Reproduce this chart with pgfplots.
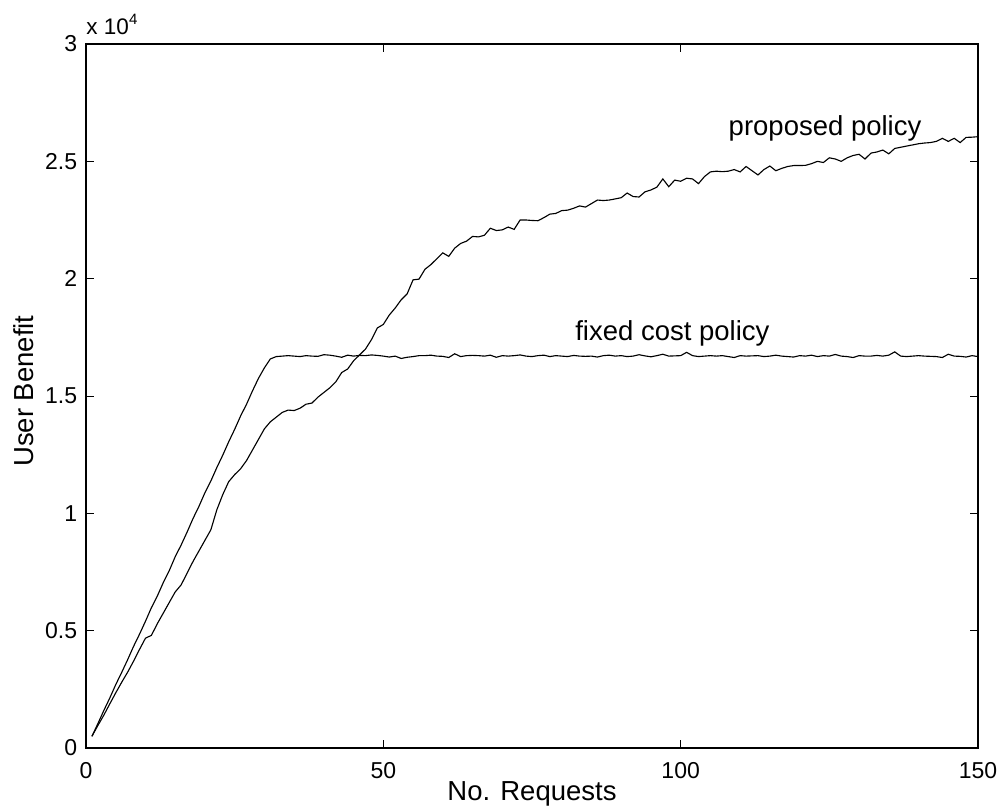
\documentclass[border=0pt]{standalone}
\usepackage{pgfplots}
\pgfplotsset{compat=1.18}
\usepackage{pgfplotstable}
\usepackage{fontspec}
\setmainfont{Liberation Sans}

\pgfplotstableread{
x prop fixed
1 500 500
2 960 1040
3 1400 1600
4 1880 2130
5 2350 2700
6 2800 3220
7 3230 3760
8 3700 4330
9 4200 4850
10 4680 5400
11 4800 5980
12 5300 6480
13 5750 7050
14 6200 7560
15 6650 8150
16 6950 8650
17 7450 9200
18 7950 9780
19 8400 10300
20 8850 10880
21 9300 11380
22 10150 11950
23 10800 12480
24 11350 13050
25 11650 13580
26 11900 14150
27 12250 14650
28 12700 15220
29 13150 15750
30 13600 16200
31 13900 16580
32 14100 16680
33 14300 16700
34 14400 16720
35 14380 16700
36 14480 16680
37 14650 16720
38 14700 16700
39 14950 16690
40 15150 16760
41 15350 16740
42 15600 16700
43 16000 16650
44 16150 16740
45 16500 16700
46 16750 16730
47 17000 16720
48 17400 16750
49 17900 16730
50 18050 16700
51 18450 16660
52 18750 16700
53 19100 16600
54 19350 16650
55 19950 16680
56 19980 16720
57 20400 16720
58 20600 16740
59 20850 16700
60 21100 16690
61 20950 16640
62 21300 16800
63 21500 16680
64 21600 16720
65 21800 16730
66 21780 16720
67 21850 16700
68 22150 16740
69 22050 16650
70 22080 16720
71 22200 16700
72 22100 16720
73 22500 16750
74 22500 16700
75 22480 16680
76 22470 16720
77 22600 16740
78 22750 16680
79 22780 16720
80 22900 16700
81 22920 16680
82 23000 16730
83 23100 16700
84 23050 16690
85 23200 16700
86 23350 16660
87 23330 16720
88 23350 16740
89 23400 16700
90 23450 16720
91 23650 16680
92 23500 16700
93 23480 16760
94 23700 16710
95 23780 16670
96 23900 16720
97 24250 16780
98 23920 16700
99 24200 16710
100 24150 16720
101 24280 16860
102 24250 16720
103 24050 16680
104 24350 16700
105 24550 16720
106 24580 16700
107 24560 16720
108 24580 16680
109 24650 16640
110 24550 16720
111 24780 16700
112 24600 16710
113 24420 16720
114 24650 16680
115 24800 16700
116 24600 16740
117 24700 16700
118 24780 16680
119 24820 16660
120 24820 16720
121 24830 16700
122 24900 16740
123 25000 16680
124 24950 16720
125 25150 16700
126 25100 16770
127 25000 16700
128 25150 16680
129 25250 16640
130 25300 16720
131 25100 16700
132 25350 16700
133 25400 16730
134 25480 16700
135 25320 16740
136 25550 16880
137 25600 16700
138 25650 16680
139 25700 16700
140 25750 16720
141 25780 16700
142 25800 16690
143 25850 16680
144 25980 16640
145 25850 16780
146 25980 16700
147 25800 16690
148 26020 16660
149 26030 16720
150 26050 16680
}\datatable

\begin{document}
\begin{tikzpicture}
\path[use as bounding box] (-34.4pt,-23.2pt) rectangle (365.6pt,299.2pt);
\begin{axis}[
  at={(0,0)}, anchor=south west,
  scale only axis, width=356.8pt, height=281.6pt,
  xmin=0, xmax=150, ymin=0, ymax=30000,
  xtick={0,50,100,150},
  ytick={0,5000,10000,15000,20000,25000,30000},
  yticklabels={0,0.5,1,1.5,2,2.5,3},
  scaled y ticks=false,
  tick align=inside, tick pos=both,
  major tick length=3.2pt,
  tick style={black, line width=0.4pt},
  axis line style={black, line width=0.55pt},
  ticklabel style={font=\fontsize{9.2}{11}\selectfont},
  /pgf/number format/assume math mode=true,
  xticklabel style={yshift=-2.4pt},
  yticklabel style={xshift=0pt},
  xlabel={No. Requests},
  ylabel={User Benefit},
  label style={font=\fontsize{11}{13}\selectfont},
  xlabel style={at={(axis description cs:0.5,0)}, anchor=base, yshift=-20.8pt},
  ylabel style={at={(axis description cs:-0.0594,0.507)}, anchor=base},
  clip=false,
]
\addplot[black, line width=0.45pt] table[x=x, y=prop] {\datatable};
\addplot[black, line width=0.45pt] table[x=x, y=fixed] {\datatable};
\node[anchor=base west, inner sep=0, font=\fontsize{11}{13}\selectfont] at (axis cs:108,26080) {proposed policy};
\node[anchor=base west, inner sep=0, font=\fontsize{11}{13}\selectfont] at (axis cs:82.2,17356) {fixed cost policy};
\node[anchor=base west, inner sep=0, font=\fontsize{9}{11}\selectfont, yshift=3.9pt] at (rel axis cs:0,1) {x 10\textsuperscript{4}};
\end{axis}
\end{tikzpicture}
\end{document}
